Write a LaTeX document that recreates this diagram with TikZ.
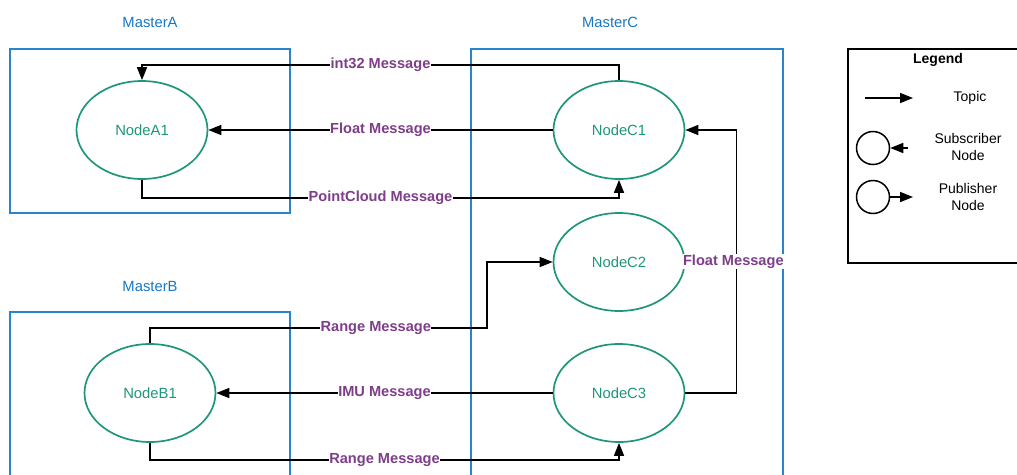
\documentclass[tikz,border=0pt]{standalone}
\usepackage{fontspec}
\setmainfont{Liberation Sans}
\usetikzlibrary{shapes.geometric,arrows.meta}
\definecolor{masterblue}{RGB}{40,132,204}
\definecolor{masterlabel}{RGB}{22,120,196}
\definecolor{nodeteal}{RGB}{30,150,122}
\definecolor{msgpurple}{RGB}{126,62,138}

\begin{document}
\begin{tikzpicture}[x=1pt,y=-1pt,
	master/.style={draw=masterblue,line width=1.5pt},
	mastername/.style={text=masterlabel,font=\fontsize{14.8}{17}\selectfont},
	rosnode/.style={ellipse,draw=nodeteal,line width=1.7pt,minimum width=131pt,minimum height=98pt,inner sep=0pt,text=nodeteal,font=\fontsize{14.8}{17}\selectfont},
	topic/.style={line width=1.6pt,-{Triangle[length=13pt,width=10pt]}},
	msg/.style={fill=white,text=msgpurple,font=\bfseries\fontsize{14.6}{17}\selectfont,inner sep=0.5pt}]
	
	\useasboundingbox (0,0) rectangle (1017,474);
	\clip (0,0) rectangle (1017,474);
	
	% Define the masters
	\draw[master] (10,49) rectangle (290,213);
	\draw[master] (471,49) rectangle (783,500);
	\draw[master] (10,312) rectangle (290,500);
	\node[mastername] (MA) at (150,22) {MasterA};
	\node[mastername] (MC) at (610,22) {MasterC};
	\node[mastername] (MB) at (150,286) {MasterB};
	
	% Define the nodes
	\node[rosnode] (A1) at (142,130) {NodeA1};
	\node[rosnode] (B1) at (150,393) {NodeB1};
	\node[rosnode] (C1) at (619,130) {NodeC1};
	\node[rosnode] (C2) at (619,262) {NodeC2};
	\node[rosnode] (C3) at (619,393) {NodeC3};
	\coordinate (bend) at (487,328);
	
	% Draw the topics
	\draw[topic] (C1.north) -- ++(0,-15) -| node[msg,pos=0.25] {int32 Message} (A1.north);
	\draw[topic] (C1.west) -- node[msg] {Float Message} (A1.east);
	\draw[topic] (A1.south) -- ++(0,18) -| node[msg,pos=0.25] {PointCloud Message} (C1.south);
	\draw[topic] (B1.north) |- node[msg,pos=0.835] {Range Message} (bend) |- (C2.west);
	\draw[topic] (C3.west) -- node[msg] {IMU Message} (B1.east);
	\draw[topic] (B1.south) -- ++(0,17) -| node[msg,pos=0.25] {Range Message} (C3.south);
	\draw[topic] (C3.east) -- ++(51,0) |- node[msg,pos=0.25,xshift=-3pt] {Float Message} (C1.east);
	
	% Draw the legend
	\draw[line width=1.5pt] (848,49) rectangle (1030,263);
	\node[font=\bfseries\fontsize{14}{16}\selectfont] (leg) at (938,60) {Legend};
	\coordinate (t0) at (865,98);
	\coordinate (t1) at (913,98);
	\draw[topic] (t0) -- (t1);
	\node[font=\fontsize{14}{16}\selectfont] (topic) at (970,98) {Topic};
	\node[circle,draw,line width=1.5pt,minimum size=33pt,inner sep=0pt] (sub) at (873,148) {};
	\coordinate (s0) at (908,148);
	\draw[topic] (s0) -- (sub.east);
	\node[font=\fontsize{14}{17.5}\selectfont,align=center] (subtext) at (968,147) {Subscriber\\Node};
	\node[circle,draw,line width=1.5pt,minimum size=33pt,inner sep=0pt] (pub) at (873,197) {};
	\coordinate (p1) at (913,197);
	\draw[topic] (pub.east) -- (p1);
	\node[font=\fontsize{14}{17.5}\selectfont,align=center] (pubtext) at (968,197) {Publisher\\Node};
\end{tikzpicture}
\end{document}
